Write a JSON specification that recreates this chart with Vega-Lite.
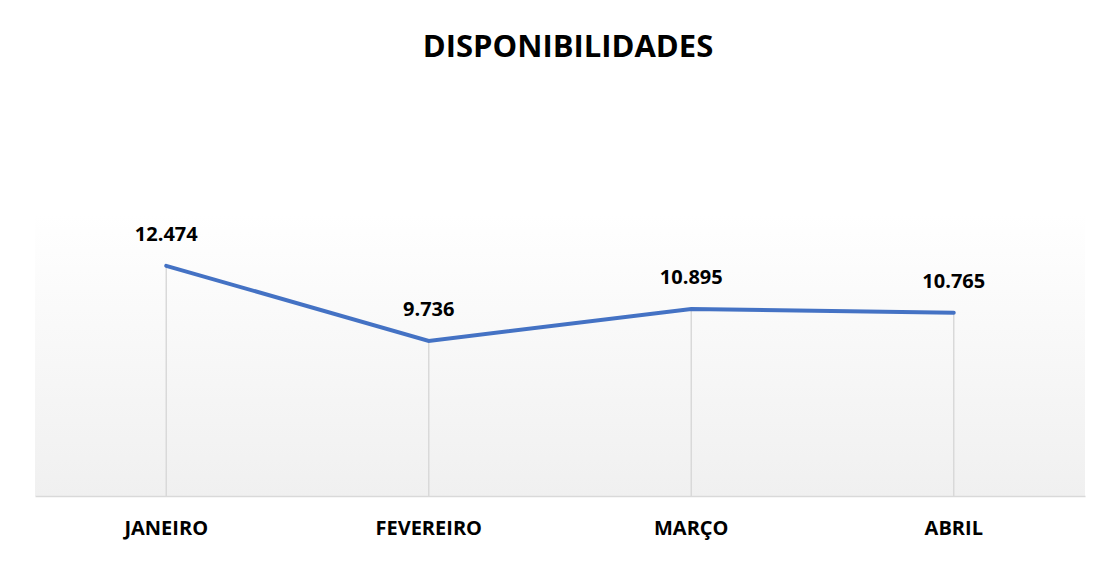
{
  "$schema": "https://vega.github.io/schema/vega-lite/v6.json",
  "autosize": "none",
  "width": 1050,
  "height": 283,
  "padding": {"left": 35, "top": 213, "right": 32, "bottom": 71},
  "background": "#ffffff",
  "title": {
    "text": "DISPONIBILIDADES",
    "font": "Open Sans",
    "fontSize": 31,
    "fontWeight": "bold",
    "color": "#000000",
    "anchor": "middle",
    "frame": "group",
    "baseline": "alphabetic",
    "offset": 125,
    "dx": 8
  },
  "config": {
    "view": {
      "stroke": null,
      "fill": {
        "gradient": "linear",
        "x1": 0, "y1": 0, "x2": 0, "y2": 1,
        "stops": [
          {"offset": 0, "color": "#ffffff"},
          {"offset": 1, "color": "#f0f0f0"}
        ]
      }
    }
  },
  "data": {
    "values": [
      {"mes": "JANEIRO", "valor": 12.474},
      {"mes": "FEVEREIRO", "valor": 9.736},
      {"mes": "MARÇO", "valor": 10.895},
      {"mes": "ABRIL", "valor": 10.765}
    ]
  },
  "encoding": {
    "x": {
      "field": "mes",
      "type": "ordinal",
      "sort": null,
      "scale": {"paddingInner": 0, "paddingOuter": 0},
      "axis": {
        "title": null,
        "ticks": false,
        "tickSize": 0,
        "grid": false,
        "domainColor": "#d9d9d9",
        "domainWidth": 1.5,
        "labelAngle": 0,
        "labelFont": "Open Sans",
        "labelFontSize": 20,
        "labelFontWeight": "bold",
        "labelColor": "#000000",
        "labelBaseline": "alphabetic",
        "labelPadding": 38
      }
    }
  },
  "layer": [
    {
      "mark": {"type": "rule", "color": "#d9d9d9", "strokeWidth": 1.5},
      "encoding": {
        "y": {"field": "valor", "type": "quantitative", "scale": {"domain": [4.08, 14.4], "nice": false, "zero": false}, "axis": null},
        "y2": {"datum": 4.08}
      }
    },
    {
      "mark": {"type": "line", "color": "#4472C4", "strokeWidth": 4, "strokeCap": "round"},
      "encoding": {
        "y": {"field": "valor", "type": "quantitative", "scale": {"domain": [4.08, 14.4], "nice": false, "zero": false}, "axis": null}
      }
    },
    {
      "mark": {"type": "text", "font": "Open Sans", "fontSize": 20, "fontWeight": "bold", "color": "#000000", "baseline": "alphabetic", "dy": -25},
      "encoding": {
        "y": {"field": "valor", "type": "quantitative", "scale": {"domain": [4.08, 14.4], "nice": false, "zero": false}, "axis": null},
        "text": {"field": "valor", "type": "quantitative", "format": ".3f"}
      }
    }
  ]
}
